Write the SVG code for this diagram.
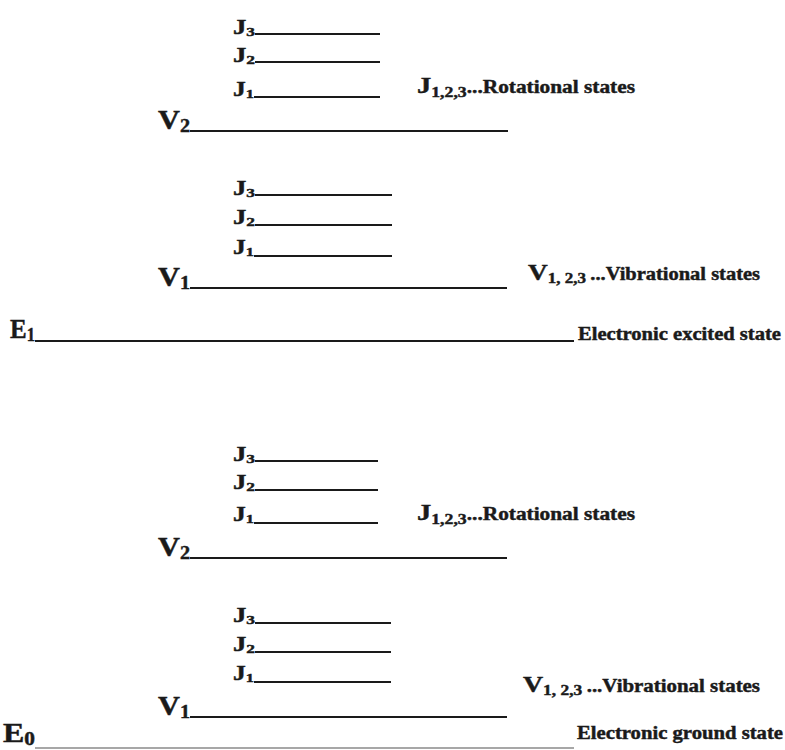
<svg xmlns="http://www.w3.org/2000/svg" width="785" height="750" viewBox="0 0 785 750">
<style>
.lvl{stroke:#1a1a1a;stroke-width:2;fill:none}
.gnd{stroke:#8a8a8a;stroke-width:1.5;fill:none}
text{font-family:"Liberation Serif","Times New Roman",serif;font-weight:bold;fill:#1a1a1a;stroke:#1a1a1a;stroke-width:0.45}
.j{font-size:20px}
.v{font-size:27px}
.sj{font-size:13px}
.sv{font-size:18px}
.big{font-size:24px}
.sub{font-size:15px}
.desc{font-size:18px}
.el{font-size:18px}
</style>
<rect width="785" height="750" fill="#ffffff"/>
<g id="connectors"/>
<!-- Excited state block -->
<g id="e1-v2-j3"><text x="233" y="34" textLength="22" lengthAdjust="spacingAndGlyphs"><tspan class="j">J</tspan><tspan class="sj" dy="2">3</tspan></text><line class="lvl" x1="255" y1="34" x2="380" y2="34"/></g>
<g id="e1-v2-j2"><text x="233" y="62" textLength="22" lengthAdjust="spacingAndGlyphs"><tspan class="j">J</tspan><tspan class="sj" dy="2">2</tspan></text><line class="lvl" x1="255" y1="62" x2="380" y2="62"/></g>
<g id="e1-v2-j1"><text x="233" y="96" textLength="21" lengthAdjust="spacingAndGlyphs"><tspan class="j">J</tspan><tspan class="sj" dy="2">1</tspan></text><line class="lvl" x1="254" y1="97" x2="380" y2="97"/></g>
<g id="rot-label-1"><text x="417" y="93" textLength="218" lengthAdjust="spacingAndGlyphs"><tspan class="big">J</tspan><tspan class="sub" dy="4">1,2,3</tspan><tspan class="desc" dy="-4">...Rotational states</tspan></text></g>
<g id="e1-v2"><text x="158" y="129" textLength="32" lengthAdjust="spacingAndGlyphs"><tspan class="v">V</tspan><tspan class="sv" dy="3">2</tspan></text><line class="lvl" x1="190" y1="131" x2="508" y2="131"/></g>
<g id="e1-v1-j3"><text x="233" y="195" textLength="22" lengthAdjust="spacingAndGlyphs"><tspan class="j">J</tspan><tspan class="sj" dy="2">3</tspan></text><line class="lvl" x1="255" y1="195" x2="392" y2="195"/></g>
<g id="e1-v1-j2"><text x="233" y="224" textLength="22" lengthAdjust="spacingAndGlyphs"><tspan class="j">J</tspan><tspan class="sj" dy="2">2</tspan></text><line class="lvl" x1="255" y1="225" x2="392" y2="225"/></g>
<g id="e1-v1-j1"><text x="233" y="254" textLength="21" lengthAdjust="spacingAndGlyphs"><tspan class="j">J</tspan><tspan class="sj" dy="2">1</tspan></text><line class="lvl" x1="254" y1="256" x2="392" y2="256"/></g>
<g id="e1-v1"><text x="158" y="286" textLength="32" lengthAdjust="spacingAndGlyphs"><tspan class="v">V</tspan><tspan class="sv" dy="3">1</tspan></text><line class="lvl" x1="190" y1="288" x2="507" y2="288"/></g>
<g id="vib-label-1"><text x="528" y="280" textLength="232" lengthAdjust="spacingAndGlyphs"><tspan class="big">V</tspan><tspan class="sub" dy="3">1, 2,3 </tspan><tspan class="desc" dy="-3">...Vibrational states</tspan></text></g>
<g id="e1"><text x="10" y="338" textLength="25" lengthAdjust="spacingAndGlyphs"><tspan class="v">E</tspan><tspan class="sv" dy="3">1</tspan></text><line class="lvl" x1="35" y1="341" x2="574" y2="341"/><text class="el" x="578" y="340" textLength="203" lengthAdjust="spacingAndGlyphs">Electronic excited state</text></g>
<!-- Ground state block -->
<g id="e0-v2-j3"><text x="233" y="461" textLength="22" lengthAdjust="spacingAndGlyphs"><tspan class="j">J</tspan><tspan class="sj" dy="2">3</tspan></text><line class="lvl" x1="255" y1="461" x2="378" y2="461"/></g>
<g id="e0-v2-j2"><text x="233" y="489" textLength="22" lengthAdjust="spacingAndGlyphs"><tspan class="j">J</tspan><tspan class="sj" dy="2">2</tspan></text><line class="lvl" x1="255" y1="490" x2="378" y2="490"/></g>
<g id="e0-v2-j1"><text x="233" y="521" textLength="21" lengthAdjust="spacingAndGlyphs"><tspan class="j">J</tspan><tspan class="sj" dy="2">1</tspan></text><line class="lvl" x1="254" y1="523" x2="378" y2="523"/></g>
<g id="rot-label-2"><text x="417" y="520" textLength="218" lengthAdjust="spacingAndGlyphs"><tspan class="big">J</tspan><tspan class="sub" dy="4">1,2,3</tspan><tspan class="desc" dy="-4">...Rotational states</tspan></text></g>
<g id="e0-v2"><text x="158" y="556" textLength="32" lengthAdjust="spacingAndGlyphs"><tspan class="v">V</tspan><tspan class="sv" dy="3">2</tspan></text><line class="lvl" x1="190" y1="558" x2="507" y2="558"/></g>
<g id="e0-v1-j3"><text x="233" y="622" textLength="22" lengthAdjust="spacingAndGlyphs"><tspan class="j">J</tspan><tspan class="sj" dy="2">3</tspan></text><line class="lvl" x1="255" y1="623" x2="391" y2="623"/></g>
<g id="e0-v1-j2"><text x="233" y="651" textLength="22" lengthAdjust="spacingAndGlyphs"><tspan class="j">J</tspan><tspan class="sj" dy="2">2</tspan></text><line class="lvl" x1="255" y1="652" x2="391" y2="652"/></g>
<g id="e0-v1-j1"><text x="233" y="680" textLength="21" lengthAdjust="spacingAndGlyphs"><tspan class="j">J</tspan><tspan class="sj" dy="2">1</tspan></text><line class="lvl" x1="254" y1="682" x2="391" y2="682"/></g>
<g id="e0-v1"><text x="158" y="715" textLength="32" lengthAdjust="spacingAndGlyphs"><tspan class="v">V</tspan><tspan class="sv" dy="3">1</tspan></text><line class="lvl" x1="190" y1="717" x2="507" y2="717"/></g>
<g id="vib-label-2"><text x="523" y="692" textLength="237" lengthAdjust="spacingAndGlyphs"><tspan class="big">V</tspan><tspan class="sub" dy="3">1, 2,3 </tspan><tspan class="desc" dy="-3">...Vibrational states</tspan></text></g>
<g id="e0"><text x="3" y="742" textLength="32" lengthAdjust="spacingAndGlyphs"><tspan class="v">E</tspan><tspan class="sv" dy="3">0</tspan></text><line class="gnd" x1="35" y1="748" x2="574" y2="748"/><text class="el" x="577" y="739" textLength="206" lengthAdjust="spacingAndGlyphs">Electronic ground state</text></g>
</svg>
